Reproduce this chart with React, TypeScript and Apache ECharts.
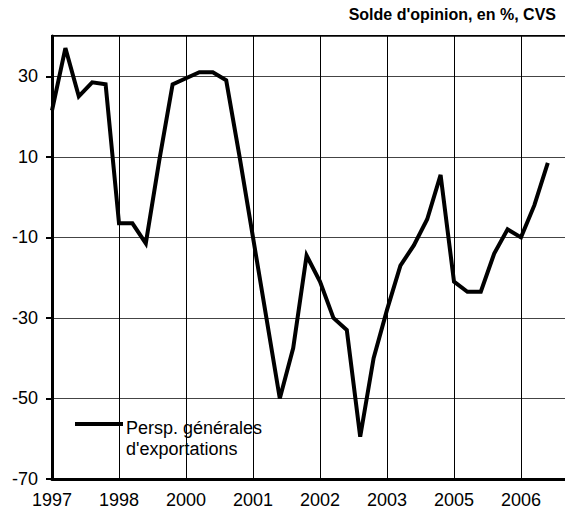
import React, { useEffect, useRef } from "react";
import * as echarts from "echarts";

const xTickLabels = ["1997", "1998", "2000", "2001", "2002", "2003", "2005", "2006", "2007"];
const periodsPerTick = 5;
const categories: string[] = [];
for (let t = 0; t < xTickLabels.length - 1; t++) {
  for (let k = 0; k < periodsPerTick; k++) {
    categories.push(k === 0 ? xTickLabels[t] : `${xTickLabels[t]}-${k}`);
  }
}
categories.push(xTickLabels[xTickLabels.length - 1]);

const seriesName = "Persp. générales\nd'exportations";
const exportValues = [
  21.5, 37, 25, 28.5, 28, -6.5, -6.5, -11.5, 9, 28,
  29.5, 31, 31, 29, 10, -10, -30, -50, -37.5, -14.5,
  -21, -30, -33, -59.5, -40, -28, -17, -12, -5.5, 5.5,
  -21, -23.5, -23.5, -14, -8, -10, -2, 8.5,
];
const yMin = -70;
const yMax = 40;
const yInterval = 20;
const unitLabel = "Solde d'opinion, en %, CVS";

const FONT = "'Liberation Sans', Arial, sans-serif";

export default function App() {
  const ref = useRef<HTMLDivElement>(null);
  useEffect(() => {
    if (!ref.current) return;
    const chart = echarts.init(ref.current, undefined, { renderer: "svg" });
    chart.setOption({
      animation: false,
      backgroundColor: "#fff",
      textStyle: { fontFamily: FONT },
      grid: {
        left: 52,
        top: 36,
        width: 536,
        height: 443,
        show: true,
        borderColor: "#000",
        borderWidth: 2,
        containLabel: false,
        outerBoundsMode: "none",
      },
      xAxis: {
        type: "category",
        data: categories,
        boundaryGap: false,
        axisLine: { show: true, onZero: false, lineStyle: { color: "#000", width: 3 } },
        axisTick: { show: false },
        axisLabel: {
          interval: periodsPerTick - 1,
          color: "#000",
          fontSize: 18,
          lineHeight: 18,
          fontFamily: FONT,
          margin: 12,
          formatter: (v: string, idx: number) =>
            v.includes("-") || idx === categories.length - 1 ? "" : v,
        },
        splitLine: {
          show: true,
          interval: periodsPerTick - 1,
          lineStyle: { color: "#000", width: 1 },
        },
      },
      yAxis: {
        type: "value",
        min: yMin,
        max: yMax,
        interval: yInterval,
        axisLine: { show: true, onZero: false, lineStyle: { color: "#000", width: 3 } },
        axisTick: { show: true, inside: false, length: 6, lineStyle: { color: "#000", width: 2 } },
        axisLabel: {
          showMaxLabel: false,
          color: "#000",
          fontSize: 18,
          fontFamily: FONT,
          margin: 14,
          formatter: (v: number) => (v === yMax ? "" : String(v)),
        },
        splitLine: { show: true, lineStyle: { color: "#444", width: 1 } },
      },
      graphic: [
        {
          type: "text",
          right: 9,
          top: 6,
          style: {
            text: unitLabel,
            font: `bold 16px ${FONT}`,
            fill: "#000",
          },
        },
        {
          type: "line",
          shape: { x1: 75, y1: 424, x2: 123, y2: 424 },
          style: { stroke: "#000", lineWidth: 4 },
          z: 100,
        },
        {
          type: "text",
          x: 126,
          y: 417,
          style: {
            text: seriesName,
            font: `18px ${FONT}`,
            lineHeight: 21,
            fill: "#000",
          },
          z: 100,
        },
      ],
      series: [
        {
          name: seriesName,
          type: "line",
          data: exportValues,
          symbol: "none",
          lineStyle: { color: "#000", width: 4, join: "miter" },
          z: 5,
        },
      ],
    });
    return () => chart.dispose();
  }, []);
  return (
    <div
      ref={ref}
      style={{ position: "fixed", left: 0, top: 0, width: 565, height: 511 }}
    />
  );
}
